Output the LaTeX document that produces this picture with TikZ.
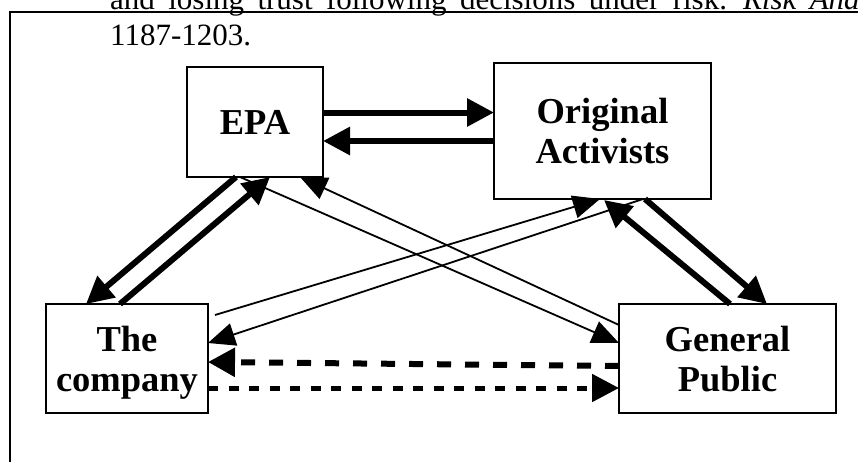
\documentclass[tikz,border=0pt]{standalone}
\usepackage{fontspec}
\setmainfont{Liberation Serif}
\usetikzlibrary{arrows.meta,calc}
\newcommand{\mycapfont}{\fontsize{31}{35.5}\selectfont\spaceskip=13.4pt\relax}
\begin{document}
\begin{tikzpicture}[x=1pt,y=-1pt,
  box/.style={draw, line width=1.7pt, inner sep=0pt, outer sep=0pt, align=center,
    font=\fontsize{36.5}{40}\selectfont\bfseries, text depth=0pt},
  caption/.style={anchor=base west, inner sep=0pt, font=\mycapfont},
  thickarrow/.style={line width=6pt, -{Triangle[length=27pt,width=27pt]}},
  thinarrow/.style={line width=1.8pt, -{Triangle[length=27pt,width=23pt]}},
  dasharrowA/.style={line width=6pt, dash pattern=on 14pt off 14pt, -{Triangle[length=27pt,width=28pt]}},
  dasharrowB/.style={line width=5pt, dash pattern=on 10pt off 10.5pt, -{Triangle[length=27pt,width=27pt]}}
]
\useasboundingbox (0,0) rectangle (858,461);
\clip (0,0) rectangle (858,461);
% page text and frame
\node[caption] (cap1) at (110,9.5) {and losing trust following decisions under risk. \textit{Risk Ana}};
\node[caption] (cap2) at (110,45) {1187-1203.};
\draw[line width=1.4pt] (10,480) -- (10,12) -- (880,12);
% boxes
\node[box, minimum width=136pt, minimum height=110pt] (epa) at (255,122) {EPA};
\node[box, minimum width=217pt, minimum height=136pt] (oa) at (602.5,131) {Original\\Activists};
\node[box, minimum width=162pt, minimum height=109pt] (co) at (127,358.5) {The\\company};
\node[box, minimum width=217pt, minimum height=109pt] (gp) at (727.5,358.5) {General\\Public};
% EPA <-> Original Activists
\draw[thickarrow] ($(epa.east)+(0,-9.5)$) -- ($(oa.west)+(0,-18.5)$);
\draw[thickarrow] ($(oa.west)+(0,10)$) -- ($(epa.east)+(0,19)$);
% EPA <-> company
\draw[thickarrow] ($(epa.south west)+(49,0)$) -- ($(co.north west)+(40,0)$);
\draw[thickarrow] ($(co.north west)+(74,0)$) -- ($(epa.south west)+(83,0)$);
% EPA <-> General Public
\draw[thinarrow] ($(gp.north west)+(0,21)$) -- ($(epa.south west)+(113,0)$);
\draw[thinarrow] ($(epa.south west)+(53,0)$) -- ($(gp.north west)+(0,39)$);
% company <-> Original Activists
\draw[thinarrow] ($(co.north east)+(7,11)$) -- ($(oa.south west)+(106,0)$);
\draw[thinarrow] ($(oa.south west)+(149,0)$) -- ($(co.north east)+(0,39)$);
% Original Activists <-> General Public
\draw[thickarrow] ($(oa.south west)+(151,0)$) -- ($(gp.north west)+(148,0)$);
\draw[thickarrow] ($(gp.north west)+(111,0)$) -- ($(oa.south west)+(110,1)$);
% company <-> General Public (dashed)
\draw[dasharrowA] ($(gp.west)+(0,7.5)$) -- ($(co.east)+(0,3.5)$);
\draw[dasharrowB] ($(co.east)+(0,29.5)$) -- ($(gp.west)+(0,29.5)$);
\end{tikzpicture}
\end{document}
